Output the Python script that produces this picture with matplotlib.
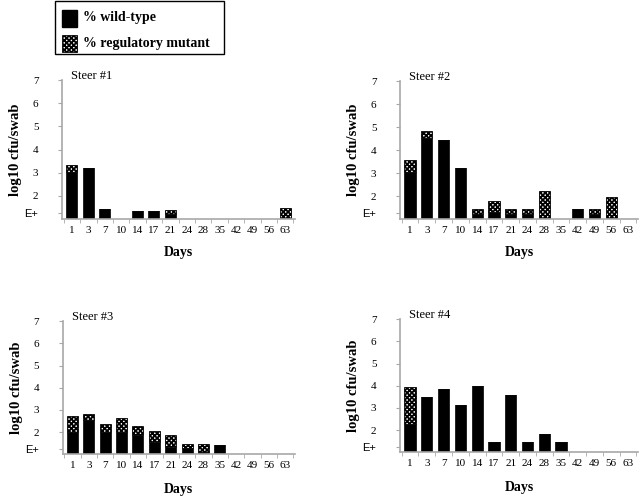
import numpy as np
import matplotlib
matplotlib.use("Agg")
import matplotlib.pyplot as plt
from matplotlib.patches import Rectangle

plt.rcParams["font.family"] = ["Liberation Serif", "DejaVu Serif"]
plt.rcParams["hatch.linewidth"] = 1.3

days = ["1", "3", "7", "10", "14", "17", "21", "24", "28", "35", "42", "49", "56", "63"]
ytick_vals = [1.25, 2, 3, 4, 5, 6, 7]
ytick_labels = ["E+", "2", "3", "4", "5", "6", "7"]

# log10 levels; 1.0 = baseline (no bar)
# wt = top of black part, total = top of checkered part
steer1_wt = [3.04, 3.22, 1.44, 1.0, 1.36, 1.36, 1.22, 1.0, 1.0, 1.0, 1.0, 1.0, 1.0, 1.05]
steer1_total = [3.34, 3.22, 1.44, 1.0, 1.36, 1.36, 1.39, 1.0, 1.0, 1.0, 1.0, 1.0, 1.0, 1.48]

steer2_wt = [3.05, 4.53, 4.45, 3.21, 1.24, 1.33, 1.24, 1.24, 1.04, 1.0, 1.45, 1.24, 1.04, 1.0]
steer2_total = [3.58, 4.82, 4.45, 3.21, 1.45, 1.78, 1.45, 1.45, 2.22, 1.0, 1.45, 1.45, 1.96, 1.0]

steer3_wt = [2.0, 2.56, 2.0, 2.0, 1.88, 1.55, 1.34, 1.28, 1.11, 1.43, 1.0, 1.0, 1.0, 1.0]
steer3_total = [2.74, 2.81, 2.38, 2.65, 2.26, 2.03, 1.85, 1.44, 1.44, 1.43, 1.0, 1.0, 1.0, 1.0]

steer4_wt = [2.27, 3.47, 3.85, 3.14, 3.97, 1.47, 3.59, 1.47, 1.82, 1.47, 1.0, 1.0, 1.0, 1.0]
steer4_total = [3.95, 3.47, 3.85, 3.14, 3.97, 1.47, 3.59, 1.47, 1.82, 1.47, 1.0, 1.0, 1.0, 1.0]

# title, data, axes rect, xlabel offset
panels = [
    ("Steer #1", steer1_wt, steer1_total, [0.097, 0.560, 0.364, 0.279], -0.195),
    ("Steer #2", steer2_wt, steer2_total, [0.625, 0.560, 0.372, 0.277], -0.195),
    ("Steer #3", steer3_wt, steer3_total, [0.098, 0.088, 0.363, 0.267], -0.215),
    ("Steer #4", steer4_wt, steer4_total, [0.625, 0.092, 0.372, 0.267], -0.215),
]

fig = plt.figure(figsize=(6.4, 4.98), dpi=100)
axis_gray = "#a8a8a8"

for title, wt, total, rect, xl in panels:
    ax = fig.add_axes(rect)
    x = np.arange(len(days))
    wt = np.array(wt)
    total = np.array(total)
    ax.bar(x, wt - 1, bottom=1, width=0.67, color="black", edgecolor="black", linewidth=0.5)
    # checkered part = regulatory mutant share stacked on top
    ax.bar(x, total - wt, bottom=wt, width=0.67, color="white", edgecolor="black",
           hatch="xxxxxxx", linewidth=0.6)

    ax.set_xlim(-0.6, len(days) - 0.4)
    ax.set_ylim(1, 7)
    for s in ["top", "right"]:
        ax.spines[s].set_visible(False)
    for s in ["left", "bottom"]:
        ax.spines[s].set_color(axis_gray)
        ax.spines[s].set_linewidth(1.2)

    ax.set_xticks(x)
    ax.set_xticklabels(days, fontsize=8)
    ax.set_xticks(np.arange(len(days) + 1) - 0.5, minor=True)
    ax.tick_params(axis="x", which="major", length=0, pad=5)
    ax.tick_params(axis="x", which="minor", length=3, color=axis_gray)

    ax.set_yticks(ytick_vals)
    ax.set_yticklabels(ytick_labels, fontsize=8)
    ax.get_yticklabels()[0].set_family(["Liberation Sans", "DejaVu Sans"])
    ax.tick_params(axis="y", length=3, color=axis_gray, pad=14)

    ax.text(-0.05, 7.17, title, fontsize=9, ha="left", va="center")

    ax.set_ylabel("log10 cfu/swab", fontsize=10.5, fontweight="bold")
    ax.yaxis.set_label_coords(-0.17, 0.5)
    ax.set_xlabel("Days", fontsize=10, fontweight="bold")
    ax.xaxis.set_label_coords(0.5, xl)

# legend box drawn by hand in figure coordinates
W, H = 640, 498
def fx(px):
    return px / W
def fy(py):
    return 1 - py / H

fig.patches.append(Rectangle((fx(55), fy(54)), fx(224) - fx(55), fy(1) - fy(54),
                             transform=fig.transFigure, facecolor="white",
                             edgecolor="black", linewidth=1.0))
fig.patches.append(Rectangle((fx(62), fy(27)), fx(15), 17 / H, transform=fig.transFigure,
                             facecolor="black", edgecolor="black"))
fig.patches.append(Rectangle((fx(62), fy(52)), fx(15), 17 / H, transform=fig.transFigure,
                             facecolor="white", edgecolor="black", hatch="xxxxxxx", linewidth=0.6))
fig.text(fx(83), fy(18), "% wild-type", fontsize=10, fontweight="bold", va="center")
fig.text(fx(83), fy(43), "% regulatory mutant", fontsize=10, fontweight="bold", va="center")

fig.savefig("out.png", dpi=100)
